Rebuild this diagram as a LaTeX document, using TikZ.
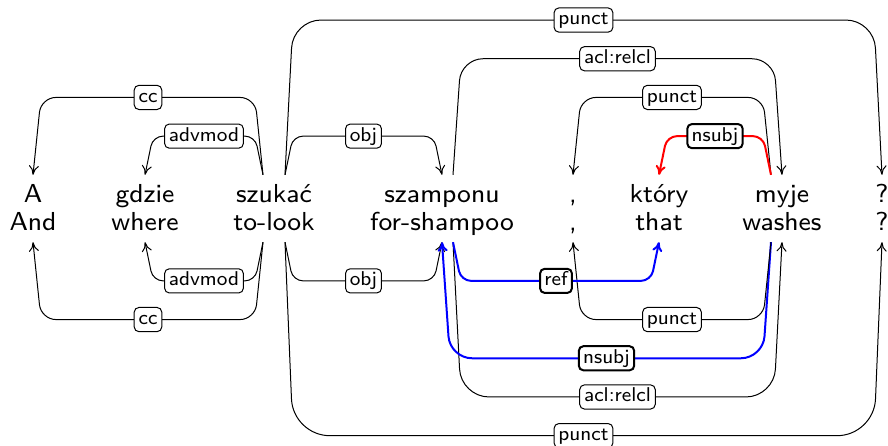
\documentclass[tikz,border=0pt]{standalone}
\usetikzlibrary{arrows.meta,calc}
\newcommand{\wfont}{\sffamily\fontsize{7.8}{8.4}\selectfont}
\newcommand{\lfont}{\sffamily\fontsize{6}{7.2}\selectfont}
\tikzset{
  word/.style={font=\wfont, inner sep=0pt, anchor=base, text height=8.25pt},
  gloss/.style={font=\wfont, inner sep=0pt, anchor=base, text depth=3.15pt},
  dep/.style={line width=0.3pt, -{To[length=2.8pt,width=3pt]}},
  depred/.style={dep, red, line width=0.6pt},
  depblue/.style={dep, blue, line width=0.6pt},
  lbl/.style={draw=black, text=black, fill=white, font=\lfont, rounded corners=1.4pt,
    inner xsep=1.3pt, inner ysep=0.8pt, text height=4.3pt, text depth=1.35pt}
}
\begin{document}
\begin{tikzpicture}[x=0.3pt, y=-0.3pt]
\useasboundingbox (0,0) rectangle (888,446);

% Polish words
\node[word] (a) at (33,203) {A};
\node[word] (gdzie) at (145,203) {gdzie};
\node[word] (szukac) at (274,203) {szukać};
\node[word] (szamponu) at (442,203) {szamponu};
\node[word] (comma) at (573,203) {,};
\node[word] (ktory) at (659,203) {który};
\node[word] (myje) at (782,203) {myje};
\node[word] (qm) at (882,203) {?};

% English glosses
\node[gloss] (and) at (33,231) {And};
\node[gloss] (where) at (145,231) {where};
\node[gloss] (tolook) at (274,231) {to-look};
\node[gloss] (forshampoo) at (442,231) {for-shampoo};
\node[gloss] (comma2) at (573,231) {,};
\node[gloss] (that) at (659,231) {that};
\node[gloss] (washes) at (782,231) {washes};
\node[gloss] (qm2) at (882,231) {?};

% Arcs above
\draw[dep, rounded corners=4.5pt] ($(szukac.north)+(-11,0)$) -- ++(-8,-77.4)
  -- node[lbl]{cc} ($(a.north)+(8,-77.4)$) -- (a.north);
\draw[dep, rounded corners=3pt] ($(szukac.north)+(-11,0)$) -- ++(-8,-38.7)
  -- node[lbl]{advmod} ($(gdzie.north)+(8,-38.7)$) -- (gdzie.north);
\draw[dep, rounded corners=3pt] ($(szukac.north)+(11,0)$) -- ++(8,-38.7)
  -- node[lbl]{obj} ($(szamponu.north)+(-8,-38.7)$) -- (szamponu.north);
\draw[dep, rounded corners=8.4pt] ($(szukac.north)+(11,0)$) -- ++(8,-154.8)
  -- node[lbl]{punct} ($(qm.north)+(-8,-154.8)$) -- (qm.north);
\draw[dep, rounded corners=6.6pt] ($(szamponu.north)+(11,0)$) -- ++(8,-116.1)
  -- node[lbl]{acl:relcl} ($(myje.north)+(-8,-116.1)$) -- (myje.north);
\draw[dep, rounded corners=4.5pt] ($(myje.north)+(-11,0)$) -- ++(-8,-77.4)
  -- node[lbl]{punct} ($(comma.north)+(8,-77.4)$) -- (comma.north);
\draw[depred, rounded corners=3pt] ($(myje.north)+(-11,0)$) -- ++(-8,-38.7)
  -- node[lbl]{nsubj} ($(ktory.north)+(8,-38.7)$) -- (ktory.north);

% Arcs below
\draw[dep, rounded corners=4.5pt] ($(tolook.south)+(-11,0)$) -- ++(-8,77.4)
  -- node[lbl]{cc} ($(and.south)+(8,77.4)$) -- (and.south);
\draw[dep, rounded corners=3pt] ($(tolook.south)+(-11,0)$) -- ++(-8,38.7)
  -- node[lbl]{advmod} ($(where.south)+(8,38.7)$) -- (where.south);
\draw[dep, rounded corners=3pt] ($(tolook.south)+(11,0)$) -- ++(8,38.7)
  -- node[lbl]{obj} ($(forshampoo.south)+(-8,38.7)$) -- (forshampoo.south);
\draw[dep, rounded corners=11pt] ($(tolook.south)+(11,0)$) -- ++(8,193.5)
  -- node[lbl]{punct} ($(qm2.south)+(-8,193.5)$) -- (qm2.south);
\draw[dep, rounded corners=8.4pt] ($(forshampoo.south)+(11,0)$) -- ++(8,154.8)
  -- node[lbl]{acl:relcl} ($(washes.south)+(-8,154.8)$) -- (washes.south);
\draw[depblue, rounded corners=6.6pt] ($(washes.south)+(-11,0)$) -- ++(-8,116.1)
  -- node[lbl]{nsubj} ($(forshampoo.south)+(8,116.1)$) -- (forshampoo.south);
\draw[dep, rounded corners=4.5pt] ($(washes.south)+(-11,0)$) -- ++(-8,77.4)
  -- node[lbl]{punct} ($(comma2.south)+(8,77.4)$) -- (comma2.south);
\draw[depblue, rounded corners=3pt] ($(forshampoo.south)+(11,0)$) -- ++(8,38.7)
  -- node[lbl]{ref} ($(that.south)+(-8,38.7)$) -- (that.south);
\end{tikzpicture}
\end{document}
